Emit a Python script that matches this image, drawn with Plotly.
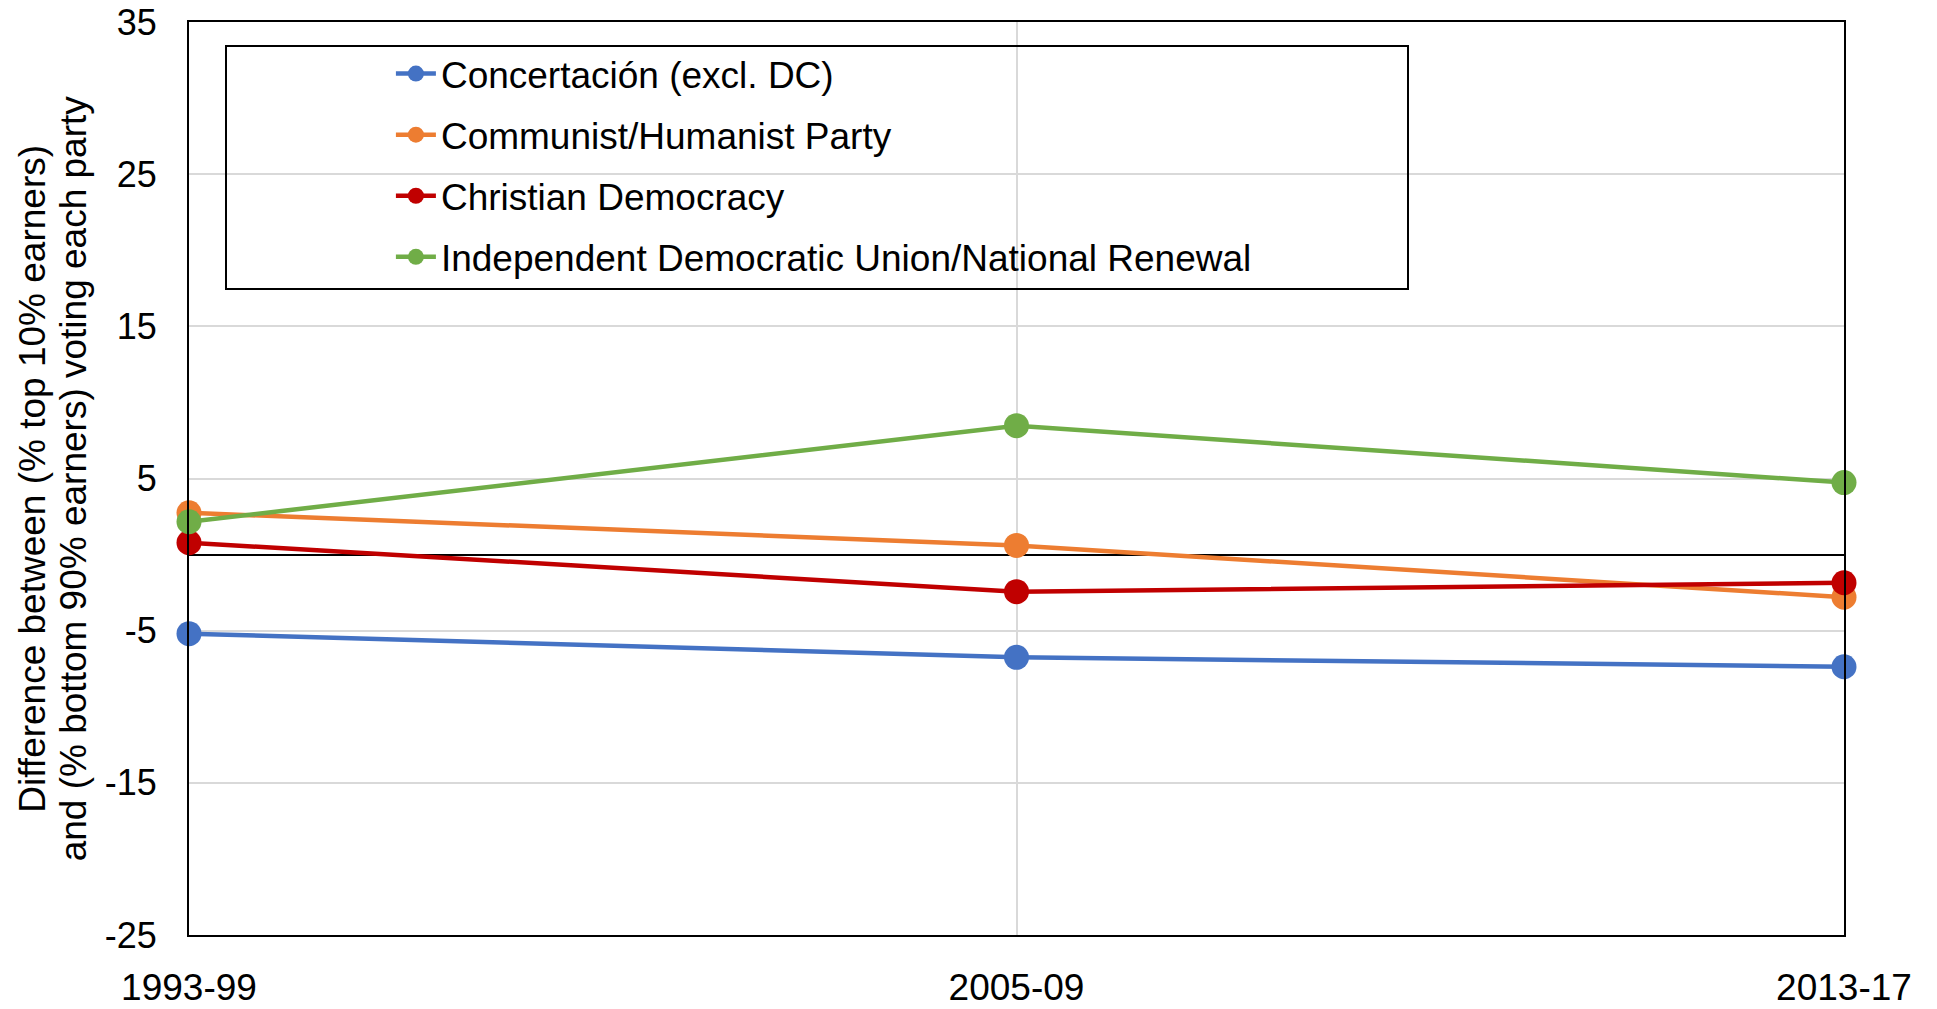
import plotly.graph_objects as go

periods = ["1993-99", "2005-09", "2013-17"]
x_pos = [0, 1, 2]

series_names = [
    "Concertación (excl. DC)",
    "Communist/Humanist Party",
    "Christian Democracy",
    "Independent Democratic Union/National Renewal",
]
concertacion = [-5.2, -6.75, -7.37]
communist = [2.75, 0.6, -2.8]
christian_dem = [0.78, -2.44, -1.85]
udi_rn = [2.16, 8.47, 4.73]
series_values = [concertacion, communist, christian_dem, udi_rn]
colors = ["#4472C4", "#ED7D31", "#C00000", "#70AD47"]

y_ticks = [-25, -15, -5, 5, 15, 25, 35]
y_title_lines = [
    "Difference between (% top 10% earners)",
    "and (% bottom 90% earners) voting each party",
]

FONT = "Liberation Sans, Arial, sans-serif"

W, H = 1937, 1009
ML, MT, MR, MB = 189, 22, 93, 74
PW, PH = W - ML - MR, H - MT - MB

fig = go.Figure()
for i, (name, vals, col) in enumerate(zip(series_names, series_values, colors)):
    fig.add_trace(go.Scatter(
        x=x_pos, y=vals, name=name, mode="lines+markers",
        line=dict(color=col, width=4.5),
        marker=dict(color=col, size=25),
        legendgroup=f"g{i}",
        cliponaxis=False,
    ))

annotations = []
for px, txt in zip([32.2, 73.8], y_title_lines):
    annotations.append(dict(
        text=txt, xref="paper", yref="paper",
        x=(px - ML) / PW, y=0.5, xanchor="center", yanchor="middle",
        textangle=-90, showarrow=False,
        font=dict(size=37, family=FONT, color="black"),
    ))

fig.update_layout(
    width=W, height=H,
    margin=dict(l=ML, r=MR, t=MT, b=MB, autoexpand=False),
    paper_bgcolor="white", plot_bgcolor="white",
    font=dict(family=FONT, color="black"),
    showlegend=True,
    legend=dict(
        x=0.122, y=0.977, xanchor="left", yanchor="top",
        bgcolor="rgba(0,0,0,0)", borderwidth=0,
        font=dict(size=37, family=FONT, color="black"),
        tracegroupgap=10,
        itemwidth=40,
    ),
    annotations=annotations,
    shapes=[dict(
        type="rect", xref="paper", yref="paper",
        x0=(226 - 189) / PW, x1=(1408 - 189) / PW,
        y0=(935 - 289) / PH, y1=(935 - 46) / PH,
        line=dict(color="black", width=2), fillcolor="rgba(0,0,0,0)",
        layer="above",
    )],
)

fig.update_xaxes(
    range=[0, 2], automargin=False,
    tickmode="array", tickvals=x_pos, ticktext=periods,
    showgrid=True, gridcolor="#d9d9d9", gridwidth=1.5,
    showline=True, linecolor="black", linewidth=2, mirror=True,
    ticks="", ticklabelstandoff=19, ticklabeloverflow="allow",
    tickfont=dict(size=37, family=FONT, color="black"),
    zeroline=False,
)
fig.update_yaxes(
    range=[-25, 35], automargin=False,
    tickmode="array", tickvals=y_ticks, ticktext=[str(v) for v in y_ticks],
    showgrid=True, gridcolor="#d9d9d9", gridwidth=1.5,
    showline=True, linecolor="black", linewidth=2, mirror=True,
    zeroline=True, zerolinecolor="black", zerolinewidth=1.5,
    ticks="", ticklabelstandoff=23, ticklabeloverflow="allow",
    tickfont=dict(size=36, family=FONT, color="black"),
)

fig.write_html(
    "out.html",
    config={"displayModeBar": False},
    post_script="document.body.style.margin='0';",
)
